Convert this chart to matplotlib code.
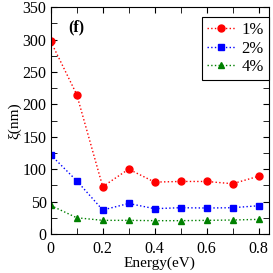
import matplotlib
matplotlib.use("Agg")
import matplotlib.pyplot as plt
from matplotlib.ticker import MultipleLocator

energy = [0.0, 0.1, 0.2, 0.3, 0.4, 0.5, 0.6, 0.7, 0.8]
xi_1 = [297, 215, 73, 100, 80, 81, 81, 77.5, 89]
xi_2 = [122, 82, 37, 47, 39, 40.5, 40, 40.5, 43.5]
xi_4 = [44, 25, 21, 21, 20.5, 20.5, 21, 21.5, 22.5]
labels = ["1%", "2%", "4%"]

plt.rcParams["font.family"] = ["Liberation Serif", "DejaVu Serif"]

fig = plt.figure(figsize=(2.73, 2.73), dpi=100)
ax = fig.add_axes([0.186, 0.143, 0.799, 0.831])

ax.plot(energy, xi_1, ":", color="red", marker="o", ms=5, lw=1, label=labels[0])
ax.plot(energy, xi_2, ":", color="blue", marker="s", ms=4.5, lw=1, label=labels[1])
ax.plot(energy, xi_4, ":", color="green", marker="^", ms=5, lw=1, label=labels[2])

ax.set_xlim(0, 0.84)
ax.set_ylim(0, 350)
ax.xaxis.set_major_locator(MultipleLocator(0.2))
ax.xaxis.set_minor_locator(MultipleLocator(0.1))
ax.yaxis.set_major_locator(MultipleLocator(50))
ax.yaxis.set_minor_locator(MultipleLocator(25))
ax.xaxis.set_major_formatter(plt.FuncFormatter(lambda v, p: "0" if abs(v) < 1e-9 else f"{v:.1f}"))
ax.tick_params(which="both", direction="in", top=True, right=True, labelsize=11.5, length=4)
ax.tick_params(axis="x", pad=5)
ax.tick_params(axis="y", pad=3)

ax.set_xlabel("Energy(eV)", fontsize=11, labelpad=0)
ax.set_ylabel("ξ(nm)", fontsize=11, labelpad=1)
ax.text(0.068, 318, "(f)", fontsize=11.5, fontweight="bold", va="center")

leg = ax.legend(loc="upper right", bbox_to_anchor=(1.0, 0.955), fontsize=12,
                fancybox=False, edgecolor="black", framealpha=1, handlelength=1.7,
                borderpad=0.3, labelspacing=0.15, handletextpad=0.4, borderaxespad=0)
leg.get_frame().set_linewidth(0.8)

fig.savefig("out.png", dpi=100)
